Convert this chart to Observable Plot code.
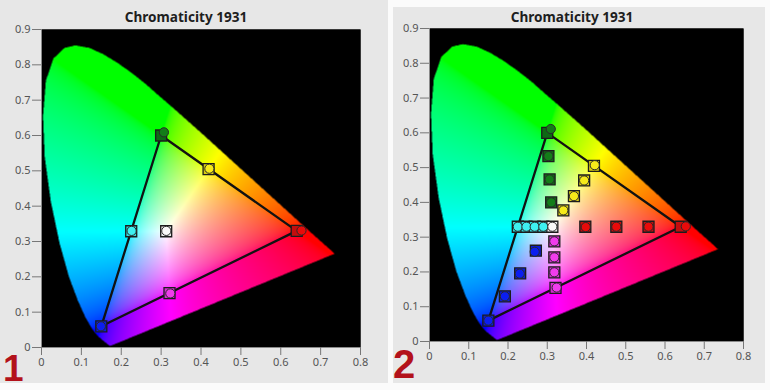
<!DOCTYPE html>
<html><head><meta charset="utf-8">
<script src="https://cdn.jsdelivr.net/npm/d3@7"></script>
<script src="https://cdn.jsdelivr.net/npm/@observablehq/plot@0.6"></script>
<style>
html,body{margin:0;padding:0;}
body{background:#fbfbfb;width:770px;height:390px;position:relative;overflow:hidden;font-family:"Noto Sans",sans-serif;}
.panel{position:absolute;background:#e7e7e7;}
.panel svg{display:block;}
#overlay{position:absolute;left:0;top:0;pointer-events:none;}
</style>
</head><body>
<div class="panel" id="p1" style="left:0;top:0;width:388px;height:383px;"></div>
<div class="panel" id="p2" style="left:393px;top:7px;width:372px;height:376px;"></div>
<svg id="overlay" width="770" height="390">
  <text x="186" y="22" text-anchor="middle" font-family="Noto Sans" font-weight="bold" font-size="13.6" fill="#1e1e1e">Chromaticity 1931</text>
  <text x="572" y="22" text-anchor="middle" font-family="Noto Sans" font-weight="bold" font-size="13.6" fill="#1e1e1e">Chromaticity 1931</text>
  <text x="3" y="381" font-family="Liberation Sans" font-weight="bold" font-size="37" fill="#b3121b">1</text>
  <text x="393" y="378" font-family="Liberation Sans" font-weight="bold" font-size="40" fill="#b3121b">2</text>
</svg>
<script>
// ---------- data ----------
// Spectral locus outline (blue end -> green peak -> red tip)
const locusX = [0.1741,0.1740,0.1738,0.1736,0.1733,0.1730,0.1726,0.1721,0.1714,0.1703,0.1689,0.1669,0.1644,0.1611,0.1566,0.1510,0.1440,0.1355,0.1241,0.1096,0.0913,0.0687,0.0454,0.0235,0.0082,0.0039,0.0110,0.0300,0.0580,0.0850,0.1200,0.1550,0.1900,0.2250,0.2600,0.2950,0.3300,0.3650,0.4000,0.4400,0.4800,0.5200,0.5600,0.6000,0.6400,0.6800,0.7100,0.7250,0.7320,0.7347];
const locusY = [0.0050,0.0050,0.0049,0.0049,0.0048,0.0048,0.0048,0.0048,0.0051,0.0058,0.0069,0.0086,0.0109,0.0138,0.0177,0.0227,0.0297,0.0399,0.0578,0.0868,0.1327,0.2007,0.2950,0.4127,0.5384,0.6548,0.7550,0.8180,0.8480,0.8550,0.8480,0.8300,0.8060,0.7780,0.7470,0.7120,0.6780,0.6430,0.6080,0.5670,0.5260,0.4850,0.4440,0.4030,0.3620,0.3210,0.2910,0.2760,0.2680,0.2653];

// gamut triangle (R, G, B, back to R)
const gamutX = [0.640, 0.300, 0.150, 0.640];
const gamutY = [0.330, 0.600, 0.060, 0.330];

// Panel 1: targets (squares) and measured (circles)
const p1Series  = ["Red","Green","Blue","Cyan","Magenta","Yellow","White"];
const p1SquareX = [0.640,0.300,0.150,0.225,0.321,0.419,0.3127];
const p1SquareY = [0.330,0.600,0.060,0.329,0.154,0.505,0.329];
const p1CircleX = [0.652,0.307,0.149,0.226,0.323,0.421,0.313];
const p1CircleY = [0.331,0.609,0.060,0.330,0.153,0.506,0.330];

// Panel 2: saturation sweeps (100/75/50/25 %) + white
const p2Series  = ["Red","Red","Red","Red","Green","Green","Green","Green","Blue","Blue","Blue","Blue","Cyan","Cyan","Cyan","Cyan","Magenta","Magenta","Magenta","Magenta","Yellow","Yellow","Yellow","Yellow","White"];
const p2SquareX = [0.640,0.558,0.476,0.397, 0.300,0.303,0.306,0.310, 0.150,0.192,0.231,0.271, 0.225,0.247,0.268,0.290, 0.321,0.318,0.318,0.318, 0.419,0.394,0.368,0.341, 0.313];
const p2SquareY = [0.330,0.330,0.330,0.330, 0.600,0.533,0.466,0.400, 0.060,0.130,0.196,0.261, 0.330,0.330,0.330,0.330, 0.154,0.199,0.242,0.288, 0.505,0.463,0.418,0.377, 0.330];
const p2CircleX = [0.653,0.558,0.476,0.398, 0.309,0.303,0.306,0.310, 0.150,0.192,0.230,0.268, 0.225,0.247,0.268,0.290, 0.324,0.318,0.318,0.318, 0.421,0.394,0.368,0.341, 0.313];
const p2CircleY = [0.331,0.330,0.330,0.329, 0.611,0.533,0.466,0.400, 0.060,0.130,0.195,0.258, 0.330,0.330,0.330,0.330, 0.155,0.199,0.242,0.288, 0.507,0.463,0.418,0.377, 0.330];

const xTicks = [0,0.1,0.2,0.3,0.4,0.5,0.6,0.7,0.8];
const yTicks = [0,0.1,0.2,0.3,0.4,0.5,0.6,0.7,0.8,0.9];

// ---------- styles ----------
const squareFill = {Red:"#c40d0d",Green:"#0d6a14",Blue:"#0a1ad8",Cyan:"#2fd6d6",Magenta:"#d62ad2",Yellow:"#d9cc12",White:"#e9e9e9"};
const circleFill = {Red:"#e80a0a",Green:"#137d18",Blue:"#0b1ef0",Cyan:"#3ef0f0",Magenta:"#f03cec",Yellow:"#f6ea1a",White:"#f8f8f8"};

// ---------- helpers ----------
const locus = locusX.map((x, i) => [x, locusY[i]]);
function chromaColor(x, y) {
  const d = 0.0006;
  let cov = 0;
  for (const [ox, oy] of [[-d,-d],[d,-d],[-d,d],[d,d]]) if (d3.polygonContains(locus, [x + ox, y + oy])) cov++;
  if (!cov || y <= 0) return "rgb(0,0,0)";
  const X = x / y, Z = (1 - x - y) / y;
  let r = 3.2406 * X - 1.5372 - 0.4986 * Z;
  let g = -0.9689 * X + 1.8758 + 0.0415 * Z;
  let b = 0.0557 * X - 0.2040 + 1.0570 * Z;
  r = Math.max(0, r); g = Math.max(0, g); b = Math.max(0, b);
  const m = Math.max(r, g, b) || 1;
  const enc = c => {
    c /= m;
    const v = c <= 0.0031308 ? 12.92 * c : 1.055 * Math.pow(c, 1 / 2.4) - 0.055;
    return Math.round(255 * v * cov / 4);
  };
  return `rgb(${enc(r)},${enc(g)},${enc(b)})`;
}
const fmt = d => String(+d.toFixed(1));

function chart({width, height, margin, series, sqX, sqY, ciX, ciY}) {
  const sq = series.map((s, i) => ({s, x: sqX[i], y: sqY[i]}));
  const ci = series.map((s, i) => ({s, x: ciX[i], y: ciY[i]}));
  const gamut = gamutX.map((x, i) => ({x, y: gamutY[i]}));
  return Plot.plot({
    width, height,
    marginLeft: margin[0], marginRight: margin[1], marginTop: margin[2], marginBottom: margin[3],
    style: {background: "transparent", color: "#555", fontFamily: "Noto Sans", fontSize: "11px"},
    x: {domain: [0, 0.8], label: null},
    y: {domain: [0, 0.9], label: null},
    color: {type: "identity"},
    marks: [
      Plot.frame({fill: "black"}),
      Plot.raster({x1: 0, x2: 0.8, y1: 0, y2: 0.9, fill: chromaColor, pixelSize: 1}),
      Plot.line(gamut, {x: "x", y: "y", stroke: "#121212", strokeWidth: 2.3}),
      Plot.dot(sq, {x: "x", y: "y", symbol: "square", r: 6.2, fill: d => squareFill[d.s], stroke: "#1c1c1c", strokeWidth: 1.3}),
      Plot.dot(ci, {x: "x", y: "y", r: 4.6, fill: d => circleFill[d.s], stroke: "#2a2a2a", strokeWidth: 1}),
      Plot.ruleX([0], {stroke: "#8a8a8a"}),
      Plot.ruleY([0], {stroke: "#8a8a8a"}),
      Plot.axisX(xTicks, {tickSize: 8, tickPadding: 3, tickFormat: fmt, stroke: "#777", fill: "#555"}),
      Plot.axisY(yTicks, {tickSize: 9, tickPadding: 2, tickFormat: fmt, stroke: "#777", fill: "#555"})
    ]
  });
}

document.getElementById("p1").append(chart({
  width: 388, height: 383, margin: [41, 28, 29, 36],
  series: p1Series, sqX: p1SquareX, sqY: p1SquareY, ciX: p1CircleX, ciY: p1CircleY
}));
document.getElementById("p2").append(chart({
  width: 372, height: 376, margin: [36, 22, 21, 42],
  series: p2Series, sqX: p2SquareX, sqY: p2SquareY, ciX: p2CircleX, ciY: p2CircleY
}));
</script>
</body></html>
